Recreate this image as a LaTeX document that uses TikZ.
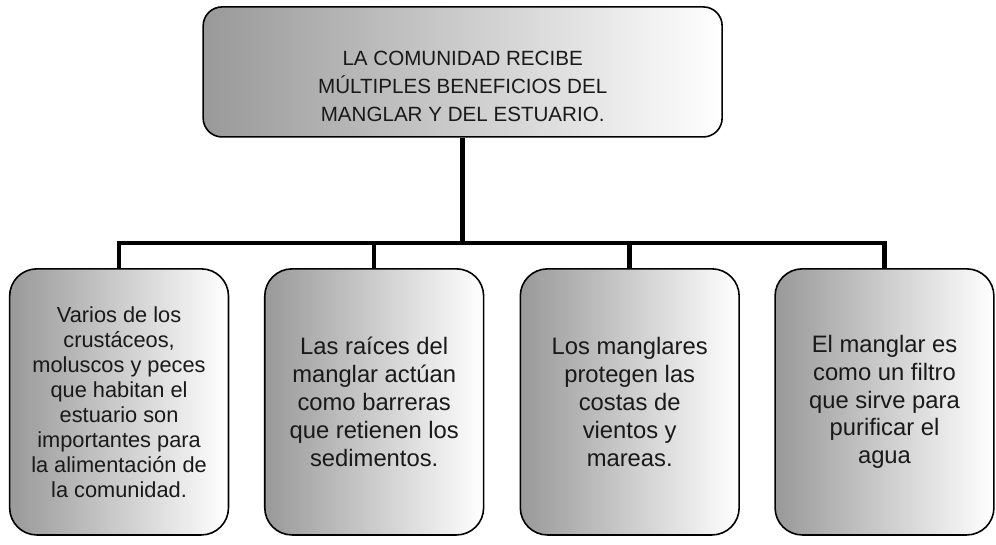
\documentclass[tikz,border=0pt]{standalone}
\usepackage{fontspec}
\setmainfont{Liberation Sans}
\begin{document}
\begin{tikzpicture}[
  topbox/.style={draw=black,line width=1.2pt,rounded corners=0.5cm,
    left color=black!40,right color=white,
    minimum width=13.73cm,minimum height=3.44cm},
  toptext/.style={font=\fontsize{15.5}{21}\selectfont,align=center,text=black!90},
  leafbox/.style={draw=black,line width=1.2pt,rounded corners=0.72cm,
    left color=black!40,right color=white,
    minimum width=5.79cm,minimum height=7.04cm,
    font=\fontsize{17.9}{21}\selectfont,align=center,text=black!90},
  smalltext/.style={font=\fontsize{16.4}{18.8}\selectfont},
  conn/.style={draw=black,line width=3.4pt,line join=miter},
]
\useasboundingbox (0,0) rectangle (26.35,14.393);
\node[topbox] (top) at (12.24,12.49) {};
\node[toptext] (toptitle) at (12.24,12.1)
  {LA COMUNIDAD RECIBE\\ MÚLTIPLES BENEFICIOS DEL\\ MANGLAR Y DEL ESTUARIO.};
\node[leafbox,smalltext] (b1) at (3.15,3.76)
  {Varios de los\\ crustáceos,\\ moluscos y peces\\ que habitan el\\ estuario son\\
   importantes para\\ la alimentación de\\ la comunidad.};
\node[leafbox] (b2) at (9.90,3.76)
  {Las raíces del\\ manglar actúan\\ como barreras\\ que retienen los\\ sedimentos.};
\node[leafbox] (b3) at (16.66,3.76)
  {Los manglares\\ protegen las\\ costas de\\ vientos y\\ mareas.};
\node[leafbox] (b4) at (23.40,3.76)
  {El manglar es\\ como un filtro\\ que sirve para\\ purificar el\\ agua};
\coordinate (bar) at (0,7.96);
% connectors
\draw[conn] (top.south) -- (top.south |- bar);
\draw[conn] (b1.north) -- (b1.north |- bar) -- (b4.north |- bar) -- (b4.north);
\foreach \b in {b2,b3}{
  \draw[conn] (\b.north |- bar) -- (\b.north);
}
\end{tikzpicture}
\end{document}
